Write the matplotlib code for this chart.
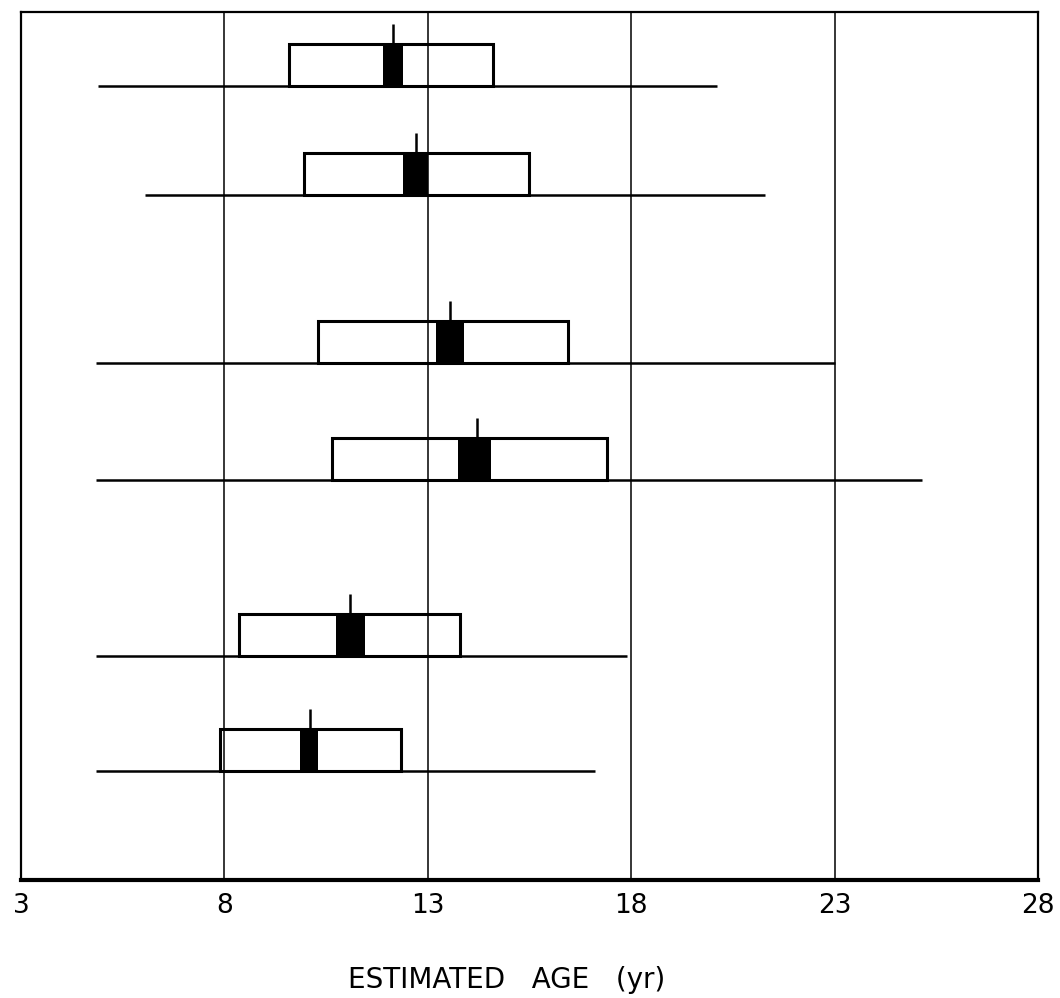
import matplotlib.pyplot as plt

# rangos y estadisticos por fila (de arriba hacia abajo)
range_lo = [4.9, 6.05, 4.85, 4.85, 4.85, 4.85]
range_hi = [20.1, 21.3, 23.0, 25.15, 17.9, 17.1]
box_lo = [9.6, 9.95, 10.3, 10.65, 8.35, 7.9]
box_hi = [14.6, 15.5, 16.45, 17.4, 13.8, 12.35]
se_lo = [11.9, 12.4, 13.2, 13.75, 10.75, 9.85]
se_hi = [12.4, 13.0, 13.9, 14.55, 11.45, 10.3]
means = [12.15, 12.7, 13.55, 14.2, 11.1, 10.1]

age_ticks = [3, 8, 13, 18, 23, 28]
grid_x = [8, 13, 18, 23]

# posicion vertical de cada fila (unidades del eje)
row_y = [794, 685, 517, 400, 224, 109]
box_h = 42
tick_len = 20

fig = plt.figure(figsize=(10.6, 9.98), dpi=100)
ax = fig.add_axes([0.0198, 0.118, 0.9594, 0.870])

ax.vlines(grid_x, 0, 868, color='black', lw=1.1, zorder=1)

ax.hlines(row_y, range_lo, range_hi, color='black', lw=1.8, zorder=2)

widths = [h - l for l, h in zip(box_lo, box_hi)]
ax.barh(row_y, widths, left=box_lo, height=box_h, align='edge',
        facecolor='none', edgecolor='black', lw=2.2, zorder=3)

se_w = [h - l for l, h in zip(se_lo, se_hi)]
ax.barh(row_y, se_w, left=se_lo, height=box_h, align='edge',
        color='black', lw=0, zorder=4)

tops = [y + box_h for y in row_y]
ax.vlines(means, tops, [t + tick_len for t in tops], color='black', lw=1.8, zorder=4)

ax.set_xlim(3, 28)
ax.set_ylim(0, 868)
ax.set_xticks(age_ticks)
ax.set_xticklabels([str(t) for t in age_ticks])
ax.set_yticks([])
ax.tick_params(axis='x', length=0, pad=9, labelsize=19)

for side in ['top', 'left', 'right']:
    ax.spines[side].set_linewidth(1.6)
ax.spines['bottom'].set_linewidth(3)

ax.set_xlabel("ESTIMATED   AGE   (yr)", fontsize=20)
ax.xaxis.set_label_coords(0.478, -0.099)

fig.savefig("out.png", dpi=100)
